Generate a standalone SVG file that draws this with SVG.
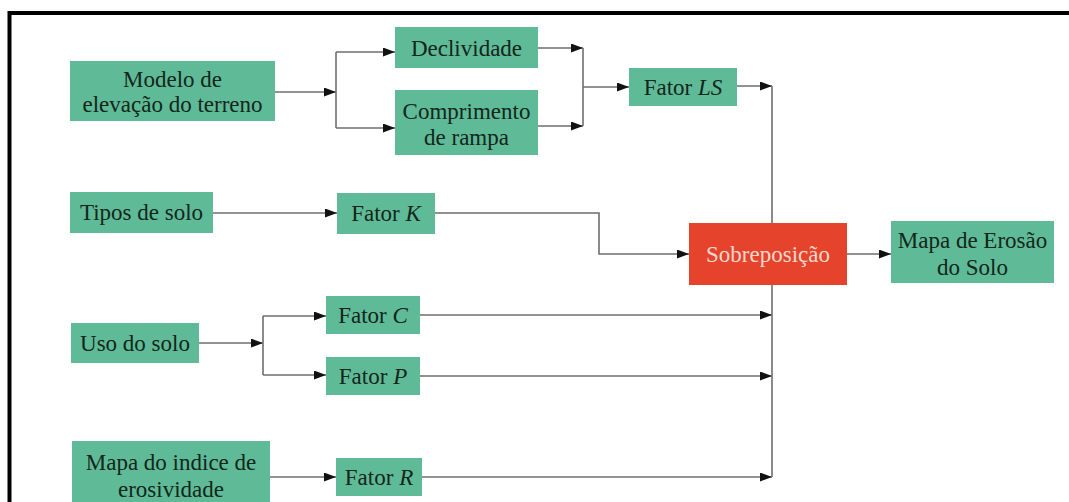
<svg xmlns="http://www.w3.org/2000/svg" width="1069" height="502" viewBox="0 0 1069 502">
<defs>
<style>
.n{fill:#5fbb97;}
.r{fill:#e5432c;}
text{font-family:'Liberation Serif','DejaVu Serif','Times New Roman',Times,serif;font-size:23px;fill:#13261b;text-anchor:middle;}
.w{fill:#f6d9cc;}
.i{font-style:italic;}
.c{fill:none;stroke:#6e6e6e;stroke-width:1.6;}
</style>
<marker id="a" markerWidth="12" markerHeight="9" refX="12" refY="4.5" orient="auto" markerUnits="userSpaceOnUse">
<path d="M0,0 L12,4.5 L0,9 Z" fill="#111"/>
</marker>
</defs>
<rect x="0" y="0" width="1069" height="502" fill="#fff"/>
<path d="M9.5,502 V13 H1069" fill="none" stroke="#000" stroke-width="4"/>

<g id="connectors">
<path class="c" d="M275,92 H336" marker-end="url(#a)"/>
<path class="c" d="M336,52 V128"/>
<path class="c" d="M336,52 H395" marker-end="url(#a)"/>
<path class="c" d="M336,128 H395" marker-end="url(#a)"/>
<path class="c" d="M538,48 H583" marker-end="url(#a)"/>
<path class="c" d="M538,126 H583" marker-end="url(#a)"/>
<path class="c" d="M583,48 V126"/>
<path class="c" d="M583,87 H629" marker-end="url(#a)"/>
<path class="c" d="M737,86 H772" marker-end="url(#a)"/>
<path class="c" d="M772,86 V223"/>
<path class="c" d="M213,213 H337" marker-end="url(#a)"/>
<path class="c" d="M435,213 H599 V254 H689" marker-end="url(#a)"/>
<path class="c" d="M847,254 H891" marker-end="url(#a)"/>
<path class="c" d="M199,343 H263" marker-end="url(#a)"/>
<path class="c" d="M263,316 V375"/>
<path class="c" d="M263,316 H326" marker-end="url(#a)"/>
<path class="c" d="M263,375 H326" marker-end="url(#a)"/>
<path class="c" d="M420,315 H772" marker-end="url(#a)"/>
<path class="c" d="M420,376 H772" marker-end="url(#a)"/>
<path class="c" d="M270,477 H336" marker-end="url(#a)"/>
<path class="c" d="M422,477 H772" marker-end="url(#a)"/>
<path class="c" d="M772,285 V477"/>
</g>

<g id="modelo">
<rect class="n" x="70" y="61" width="205" height="60"/>
<text x="172.5" y="87">Modelo de</text>
<text x="172.5" y="112">elevação do terreno</text>
</g>
<g id="declividade">
<rect class="n" x="395" y="27" width="143" height="41"/>
<text x="466.5" y="56">Declividade</text>
</g>
<g id="comprimento">
<rect class="n" x="395" y="90" width="143" height="65"/>
<text x="466.5" y="119">Comprimento</text>
<text x="466.5" y="145">de rampa</text>
</g>
<g id="fatorLS">
<rect class="n" x="629" y="68" width="108" height="38"/>
<text x="683" y="95">Fator <tspan class="i">LS</tspan></text>
</g>
<g id="tipos">
<rect class="n" x="70" y="192" width="143" height="41"/>
<text x="141.5" y="220">Tipos de solo</text>
</g>
<g id="fatorK">
<rect class="n" x="337" y="193" width="98" height="41"/>
<text x="386" y="221">Fator <tspan class="i">K</tspan></text>
</g>
<g id="sobreposicao">
<rect class="r" x="689" y="223" width="158" height="62"/>
<text class="w" x="768" y="262">Sobreposição</text>
</g>
<g id="mapaErosao">
<rect class="n" x="891" y="221" width="163" height="62"/>
<text x="972.5" y="248">Mapa de Erosão</text>
<text x="972.5" y="275">do Solo</text>
</g>
<g id="uso">
<rect class="n" x="71" y="323" width="128" height="40"/>
<text x="135" y="351">Uso do solo</text>
</g>
<g id="fatorC">
<rect class="n" x="326" y="296" width="94" height="38"/>
<text x="373" y="323">Fator <tspan class="i">C</tspan></text>
</g>
<g id="fatorP">
<rect class="n" x="326" y="357" width="94" height="38"/>
<text x="373" y="384">Fator <tspan class="i">P</tspan></text>
</g>
<g id="mapaIndice">
<rect class="n" x="72" y="441" width="198" height="62"/>
<text x="171" y="470">Mapa do indice de</text>
<text x="171" y="497">erosividade</text>
</g>
<g id="fatorR">
<rect class="n" x="336" y="458" width="86" height="38"/>
<text x="379" y="485">Fator <tspan class="i">R</tspan></text>
</g>
</svg>
